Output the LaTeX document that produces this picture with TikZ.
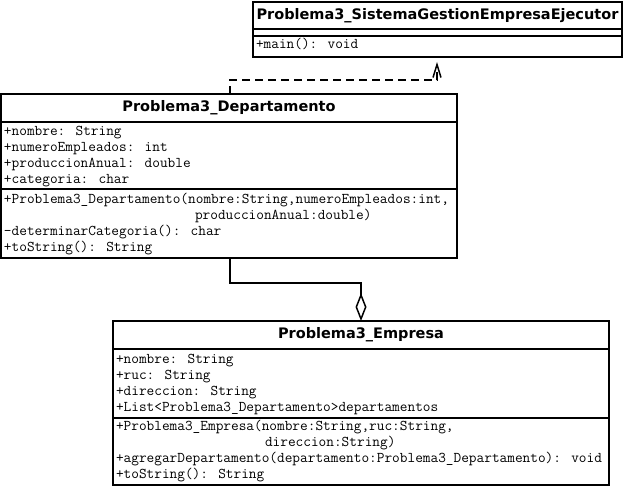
\documentclass[tikz,border=0pt]{standalone}
\usepackage{fontspec}
\setmainfont{DejaVu Sans}
\usetikzlibrary{arrows.meta}

\begin{document}
\begin{tikzpicture}[x=1pt,y=-1pt]
  \tikzstyle{every node}=[inner sep=0pt,outer sep=0pt]
  \tikzstyle{part}=[draw,line width=1.5pt,anchor=north west]
  \tikzstyle{title}=[part,font=\bfseries\fontsize{14.5}{16}\selectfont]
  \tikzstyle{member}=[anchor=base west,font=\ttfamily\fontsize{14.9}{16}\selectfont]
  \tikzstyle{link}=[line width=1.5pt]
  \useasboundingbox (0,0) rectangle (624,487);

  % Ejecutor
  \node[title,minimum width=369,minimum height=27] (ejeT) at (253,2) {Problema3\_SistemaGestionEmpresaEjecutor};
  \node[part,minimum width=369,minimum height=7] (ejeA) at (253,29) {};
  \node[part,minimum width=369,minimum height=21] (ejeO) at (253,36) {};
  \node[member] (ejeO1) at (256,49) {+main(): void};

  % Departamento
  \node[title,minimum width=456,minimum height=28] (depT) at (1,94) {Problema3\_Departamento};
  \node[part,minimum width=456,minimum height=67] (depA) at (1,122) {};
  \node[part,minimum width=456,minimum height=69] (depO) at (1,189) {};
  \foreach \t [count=\i] in {{+nombre: String},{+numeroEmpleados: int},
                             {+produccionAnual: double},{+categoria: char}}
    \node[member] (depA\i) at (4,119.5+16*\i) {\t};
  \node[member] (depO1) at (4,203) {+Problema3\_Departamento(nombre:String,numeroEmpleados:int,};
  \node[member] (depO2) at (195,219) {produccionAnual:double)};
  \node[member] (depO3) at (4,235) {-determinarCategoria(): char};
  \node[member] (depO4) at (4,251) {+toString(): String};

  % Empresa
  \node[title,minimum width=496,minimum height=28] (empT) at (113,321) {Problema3\_Empresa};
  \node[part,minimum width=496,minimum height=69] (empA) at (113,349) {};
  \node[part,minimum width=496,minimum height=67] (empO) at (113,418) {};
  \foreach \t [count=\i] in {{+nombre: String},{+ruc: String},{+direccion: String},
                             {+List<Problema3\_Departamento>departamentos}}
    \node[member] (empA\i) at (116,347+16*\i) {\t};
  \node[member] (empO1) at (116,430) {+Problema3\_Empresa(nombre:String,ruc:String,};
  \node[member] (empO2) at (265,446) {direccion:String)};
  \node[member] (empO3) at (116,462) {+agregarDepartamento(departamento:Problema3\_Departamento): void};
  \node[member] (empO4) at (116,478) {+toString(): String};

  % connectors
  \coordinate (dBend) at (230,80);
  \coordinate (dTurn) at (437,80);
  \draw[link,dash pattern=on 8pt off 5pt,shorten >=5pt,-{Straight Barb[length=13pt,width=8pt]}]
    (depT.north -| dBend) -- (dBend) -- (dTurn) -- (ejeO.south -| dTurn);
  \coordinate (aBend) at (230,283);
  \coordinate (aTurn) at (361,283);
  \draw[link,-{Diamond[open,length=28pt,width=11pt]}]
    (depO.south -| aBend) -- (aBend) -- (aTurn) -- (empT.north -| aTurn);
\end{tikzpicture}
\end{document}
